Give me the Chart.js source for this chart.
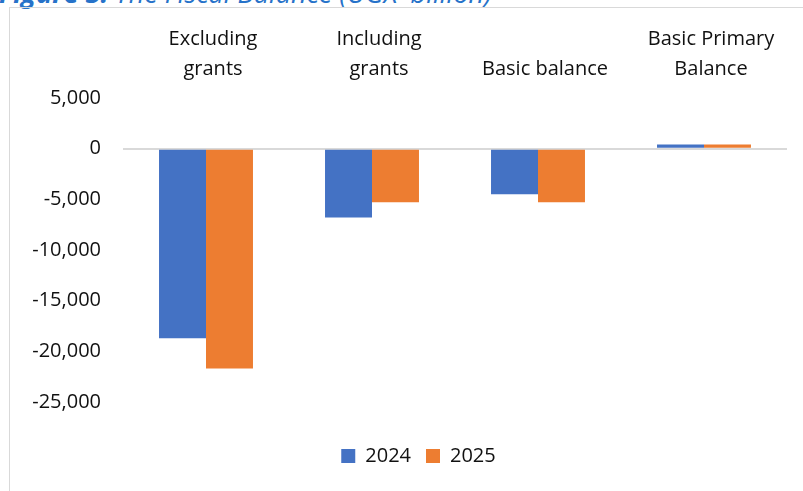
<!DOCTYPE html>
<html>
<head>
<meta charset="utf-8">
<script src="https://cdn.jsdelivr.net/npm/chart.js@4"></script>
<style>
  body { margin: 0; background: #fff; }
  #wrap { position: relative; width: 803px; height: 491px; overflow: hidden; }
  #title {
    position: absolute; left: -1px; top: -26px; white-space: nowrap; line-height: 36px;
    font: italic 27px 'Open Sans', sans-serif; color: #2672c9;
  }
  #title b { font-weight: 700; }
  #frame {
    position: absolute; left: 9px; top: 7px; width: 820px; height: 500px;
    border-left: 1px solid #d9d9d9; border-top: 1px solid #d9d9d9;
  }
  canvas { position: absolute; left: 0; top: 0; }
</style>
</head>
<body>
<div id="wrap">
  <div id="title"><b>Figure 3:</b> The Fiscal Balance (UGX' billion)</div>
  <div id="frame"></div>
  <canvas id="myChart" width="803" height="491"></canvas>
</div>
<script>
// chart data
var categories = [['Excluding', 'grants'], ['Including', 'grants'], 'Basic balance', ['Basic Primary', 'Balance']];
var values2024 = [-18700, -6800, -4500, 400];
var values2025 = [-21700, -5300, -5300, 400];
var yTicks = [5000, 0, -5000, -10000, -15000, -20000, -25000];

var font = { family: "'Open Sans', sans-serif", size: 20 };

// nudge the legend a bit to the right, like the excel original
var legendShift = {
    id: 'legendShift',
    afterLayout: function(chart) {
        chart.legend.left += 41;
    }
};

var ctx = document.getElementById('myChart').getContext('2d');
var myChart = new Chart(ctx, {
    type: 'bar',
    data: {
        labels: categories,
        datasets: [{
            label: '2024',
            data: values2024,
            backgroundColor: '#4472C4'
        }, {
            label: '2025',
            data: values2025,
            backgroundColor: '#ED7D31'
        }]
    },
    options: {
        responsive: false,
        animation: false,
        categoryPercentage: 0.566,
        barPercentage: 1,
        layout: { padding: { left: 9, top: 7, right: 16, bottom: 15 } },
        plugins: {
            tooltip: { enabled: false },
            legend: {
                position: 'bottom',
                // empty title only used as a spacer above the legend row
                title: { display: true, text: ' ', font: { size: 10, lineHeight: 1 }, padding: { top: 19, bottom: 0 } },
                labels: {
                    boxWidth: 14,
                    boxHeight: 14,
                    padding: 15,
                    color: '#111',
                    font: font
                }
            }
        },
        scales: {
            x: {
                position: 'top',
                grid: { display: false },
                border: { display: false },
                ticks: {
                    color: '#111',
                    font: { family: font.family, size: 20, lineHeight: 1.5 },
                    padding: 6,
                    labelOffset: 7,
                    maxRotation: 0,
                    autoSkip: false
                },
                afterFit: function(scale) { scale.height = 91; }
            },
            y: {
                min: -25000,
                max: 5000,
                afterBuildTicks: function(scale) {
                    scale.ticks = yTicks.map(function(v) { return { value: v }; });
                },
                grid: {
                    drawTicks: false,
                    lineWidth: 2,
                    color: function(c) { return c.tick && c.tick.value === 0 ? '#d9d9d9' : 'rgba(0,0,0,0)'; }
                },
                border: { display: false },
                ticks: {
                    color: '#111',
                    font: font,
                    padding: 22,
                    callback: function(v) { return v.toLocaleString('en-US'); }
                },
                afterFit: function(scale) { scale.width = 114; }
            }
        }
    },
    plugins: [legendShift]
});
</script>
</body>
</html>
